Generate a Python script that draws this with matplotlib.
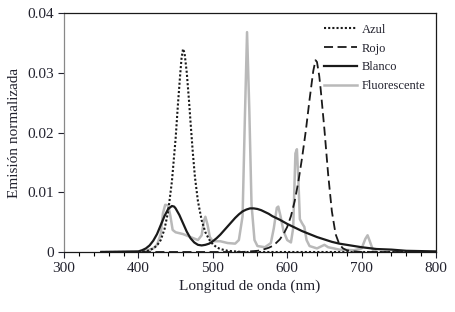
import matplotlib
matplotlib.use("Agg")
import matplotlib.pyplot as plt
from matplotlib.ticker import MultipleLocator

# ---------------------------------------------------------------------------
# Data
# ---------------------------------------------------------------------------
azul_nm = [350, 400, 410, 415, 420, 425, 430, 435, 440, 445, 450, 453, 456,
           458, 460, 462, 465, 468, 470, 473, 476, 480, 485, 490, 495, 500,
           505, 510, 520, 530, 540, 600, 700, 800]
azul_val = [0.0, 0.0, 0.0001, 0.0003, 0.0006, 0.0011, 0.002, 0.0038, 0.0068,
            0.0118, 0.019, 0.0245, 0.0295, 0.0325, 0.034, 0.0333, 0.030,
            0.0253, 0.0218, 0.0168, 0.0125, 0.0085, 0.0053, 0.0033, 0.0021,
            0.0013, 0.0008, 0.0005, 0.0002, 0.0001, 0.0, 0.0, 0.0, 0.0]

rojo_nm = [350, 500, 540, 560, 565, 570, 575, 580, 585, 590, 595, 600, 605,
           610, 615, 620, 625, 630, 635, 638, 640, 643, 645, 650, 655, 660,
           665, 670, 675, 680, 690, 700, 800]
rojo_val = [0.0, 0.0, 0.0, 0.0002, 0.0003, 0.0005, 0.0007, 0.001, 0.0015,
            0.0021, 0.003, 0.0042, 0.006, 0.0085, 0.0118, 0.0158, 0.0203,
            0.0255, 0.0303, 0.0321, 0.0318, 0.0295, 0.0272, 0.0205, 0.013,
            0.0068, 0.003, 0.0013, 0.0006, 0.0003, 0.0001, 0.0, 0.0]

blanco_nm = [350, 400, 405, 410, 415, 420, 425, 430, 435, 440, 445, 448, 450,
             455, 460, 465, 470, 475, 480, 485, 490, 495, 500, 505, 510, 515,
             520, 525, 530, 535, 540, 545, 550, 555, 560, 565, 570, 575, 580,
             590, 600, 610, 620, 630, 640, 650, 660, 670, 680, 690, 700, 720,
             740, 760, 800]
blanco_val = [0.0, 0.0001, 0.0003, 0.0006, 0.0011, 0.0019, 0.003, 0.0045,
              0.006, 0.0072, 0.0077, 0.0076, 0.0073, 0.0062, 0.0048, 0.0034,
              0.0023, 0.0016, 0.0012, 0.0011, 0.0012, 0.0014, 0.0018, 0.0023,
              0.0029, 0.0036, 0.0043, 0.005, 0.0057, 0.0063, 0.0068, 0.0071,
              0.0073, 0.0073, 0.0072, 0.007, 0.0067, 0.0064, 0.006, 0.0054,
              0.0047, 0.0041, 0.0035, 0.003, 0.0025, 0.0021, 0.0017, 0.0014,
              0.0012, 0.001, 0.0008, 0.0005, 0.0004, 0.0002, 0.0001]

fluor_nm = [350, 400, 410, 420, 425, 430, 433, 436, 440, 443, 446, 450, 460,
            470, 480, 485, 488, 490, 493, 496, 500, 510, 520, 530, 535, 540,
            543, 546, 549, 552, 556, 560, 570, 578, 582, 586, 588, 591, 595,
            600, 605, 608, 611, 613, 615, 617, 620, 623, 626, 630, 640, 650,
            655, 670, 690, 700, 705, 708, 711, 715, 720]
fluor_val = [0.0, 0.0, 0.0002, 0.0006, 0.0012, 0.003, 0.0065, 0.0079, 0.0078,
             0.006, 0.0037, 0.0033, 0.003, 0.0025, 0.002, 0.0028, 0.0052,
             0.0059, 0.0045, 0.0025, 0.0018, 0.0018, 0.0015, 0.0014, 0.002,
             0.006, 0.022, 0.0368, 0.024, 0.008, 0.002, 0.001, 0.0008, 0.0015,
             0.004, 0.0074, 0.0076, 0.006, 0.0035, 0.002, 0.0016, 0.004,
             0.0165, 0.0172, 0.012, 0.0055, 0.0048, 0.0042, 0.002, 0.001,
             0.0006, 0.0012, 0.0008, 0.0004, 0.0003, 0.0006, 0.0022, 0.0028,
             0.0018, 0.0004, 0.0]

x_ticks = [300, 400, 500, 600, 700, 800]
y_ticks = [0, 0.01, 0.02, 0.03, 0.04]
y_tick_labels = ["0", "0.01", "0.02", "0.03", "0.04"]

plt.rcParams["font.family"] = ["Liberation Serif", "DejaVu Serif"]
TEXT = "#22222e"

fig = plt.figure(figsize=(4.55, 3.12), dpi=100)
ax = fig.add_axes([0.1407, 0.1923, 0.8176, 0.7660])

ax.plot(fluor_nm, fluor_val, color="#b9b9b9", lw=1.8, label="Fluorescente", zorder=2)
ax.plot(azul_nm, azul_val, color="#1a1a1a", lw=1.5, ls=(0, (1, 1)), label="Azul", zorder=3)
ax.plot(rojo_nm, rojo_val, color="#1a1a1a", lw=1.3, ls=(0, (5, 2.5)), label="Rojo", zorder=3)
ax.plot(blanco_nm, blanco_val, color="#1a1a1a", lw=1.6, label="Blanco", zorder=4)

ax.set_xlim(300, 800)
ax.set_ylim(0, 0.04)
ax.set_xticks(x_ticks)
ax.set_yticks(y_ticks)
ax.set_yticklabels(y_tick_labels)
ax.xaxis.set_minor_locator(MultipleLocator(20))
ax.tick_params(axis="both", which="major", direction="out", length=4,
               width=0.8, labelsize=11, colors=TEXT)
ax.tick_params(axis="x", which="minor", direction="out", length=3, width=0.8)

for side in ("top", "right", "bottom"):
    ax.spines[side].set_color("#1a1a1a")
ax.spines["left"].set_color("#888888")
for spine in ax.spines.values():
    spine.set_linewidth(0.9)

ax.set_xlabel("Longitud de onda (nm)", fontsize=11, color=TEXT, labelpad=3)
ax.set_ylabel("Emisión normalizada", fontsize=11, color=TEXT, labelpad=4)

handles, labels = ax.get_legend_handles_labels()
order = [1, 2, 3, 0]
ax.legend([handles[i] for i in order], [labels[i] for i in order],
          loc="upper right", frameon=False, fontsize=9, handlelength=2.6,
          handletextpad=0.4, labelspacing=0.55, borderaxespad=0.45,
          labelcolor=TEXT)

fig.savefig("out.png", dpi=100)
